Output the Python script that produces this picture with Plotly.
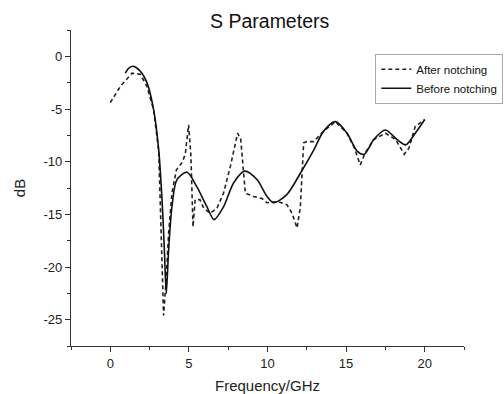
import plotly.graph_objects as go

# Before notching (solid)
before_x = [0.95, 1.2, 1.48, 1.9, 2.33, 2.76, 3.08, 3.29, 3.44, 3.56, 3.71, 3.92, 4.24, 4.88,
            5.51, 6.15, 6.6, 7.2, 7.85, 8.55, 9.33, 9.97, 10.39, 11.24, 12.09, 12.94, 13.57,
            14.32, 15.06, 15.7, 16.15, 16.76, 17.5, 18.24, 18.8, 19.4, 20.0]
before_y = [-1.6, -1.1, -0.95, -1.4, -2.5, -5.1, -8.9, -13.6, -18.4, -22.5, -18.4, -14.3, -11.7,
            -11.0, -12.4, -14.3, -15.5, -14.3, -12.0, -10.9, -11.7, -13.3, -13.9, -13.1, -11.1,
            -8.9, -7.1, -6.2, -7.3, -9.0, -9.3, -7.9, -7.0, -7.9, -8.4, -7.3, -6.0]

# After notching (dashed)
after_x = [0.0, 0.64, 1.38, 1.9, 2.33, 2.76, 3.08, 3.18, 3.33, 3.39, 3.54, 3.71, 3.92, 4.2, 4.56,
           4.77, 4.98, 5.13, 5.26, 5.4, 5.7, 5.94, 6.36, 6.79, 7.2, 7.63, 8.1, 8.3, 8.59, 9.12,
           9.65, 9.97, 10.7, 11.24, 11.56, 11.88, 12.09, 12.3, 12.5, 12.94, 13.57, 14.32, 15.06,
           15.5, 15.9, 16.2, 16.76, 17.5, 18.15, 18.7, 19.0, 19.4, 20.0]
after_y = [-4.4, -2.85, -1.6, -1.7, -2.85, -5.1, -9.0, -13.6, -22.5, -24.6, -21.5, -16.8, -13.0,
           -10.8, -10.1, -9.3, -6.5, -9.5, -16.2, -13.6, -13.6, -14.4, -14.9, -14.4, -13.0,
           -10.5, -7.3, -7.9, -13.0, -13.3, -13.5, -13.9, -13.8, -14.1, -14.9, -16.3, -14.3,
           -8.2, -8.1, -8.1, -7.1, -6.2, -7.3, -8.6, -10.3, -9.2, -7.9, -7.3, -7.9, -9.3, -8.7,
           -6.65, -6.0]

x_ticks = [0, 5, 10, 15, 20]
x_labels = ["0", "5", "10", "15", "20"]
y_ticks = [0, -5, -10, -15, -20, -25]
y_labels = ["0", "-5", "-10", "-15", "-20", "-25"]

fig = go.Figure()
fig.add_trace(go.Scatter(x=after_x, y=after_y, mode="lines", name="After notching",
                         line=dict(color="#222222", width=1.6, dash="4px,3px")))
fig.add_trace(go.Scatter(x=before_x, y=before_y, mode="lines", name="Before notching",
                         line=dict(color="#111111", width=1.6, shape="spline", smoothing=0.8)))

font = "Liberation Sans, Arial, sans-serif"
fig.update_layout(
    width=504, height=394,
    margin=dict(l=71, r=40, t=30, b=48, autoexpand=False),
    plot_bgcolor="white", paper_bgcolor="white",
    font=dict(family=font, color="#222222", size=12),
    title=dict(text="S Parameters", x=0.535, xanchor="center", y=0.945, yanchor="middle",
               font=dict(size=19.5, color="#111111")),
    showlegend=True,
    legend=dict(x=1.1, y=0.925, xanchor="right", yanchor="top",
                bordercolor="#aaaaaa", borderwidth=1, bgcolor="white",
                font=dict(size=11.5, color="#111111"), itemwidth=30,
                tracegroupgap=0),
    xaxis=dict(range=[-2.5, 22.5], tickvals=x_ticks, ticktext=x_labels, showgrid=False,
               zeroline=False, showline=True, linecolor="#333333", linewidth=1.2,
               ticks="outside", ticklen=5, tickcolor="#333333",
               minor=dict(dtick=2.5, tick0=0, ticks="outside", ticklen=3, tickcolor="#333333"),
               title=dict(text="Frequency/GHz", font=dict(size=15), standoff=11),
               tickfont=dict(size=13)),
    yaxis=dict(range=[-27.5, 2.5], tickvals=y_ticks, ticktext=y_labels, showgrid=False,
               zeroline=False, showline=True, linecolor="#333333", linewidth=1.2,
               ticks="outside", ticklen=5, tickcolor="#333333",
               minor=dict(dtick=2.5, tick0=0, ticks="outside", ticklen=3, tickcolor="#333333"),
               title=dict(text="dB", font=dict(size=15), standoff=14),
               tickfont=dict(size=13)),
)

fig.write_html("out.html")
